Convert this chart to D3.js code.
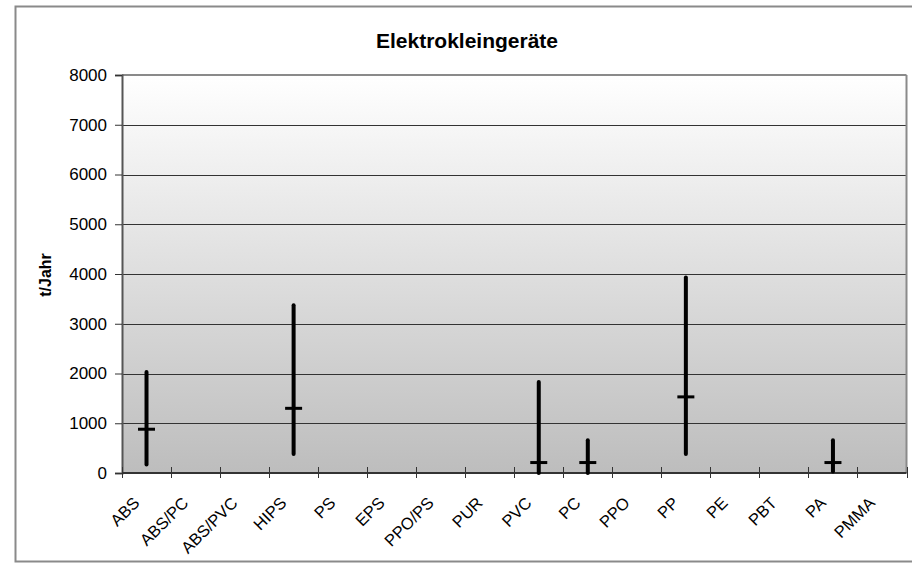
<!DOCTYPE html>
<html><head><meta charset="utf-8">
<script src="https://cdn.jsdelivr.net/npm/d3@7"></script>
<style>body{margin:0;background:#fff;}svg{display:block;font-family:Arial,"Liberation Sans",sans-serif;}</style>
</head><body>
<svg id="c" width="912" height="565"></svg>
<script>
const categories = ["ABS","ABS/PC","ABS/PVC","HIPS","PS","EPS","PPO/PS","PUR","PVC","PC","PPO","PP","PE","PBT","PA","PMMA"];
const highValues = [2030,null,null,3370,null,null,null,null,1830,660,null,3930,null,null,660,null];
const lowValues  = [170,null,null,380,null,null,null,null,0,0,null,380,null,null,30,null];
const closeValues= [880,null,null,1300,null,null,null,null,210,210,null,1530,null,null,210,null];
const yTicks = [0,1000,2000,3000,4000,5000,6000,7000,8000];

const svg = d3.select("#c");
const L=122, R=906.5, T=75, B=473;
const x = d3.scaleBand().domain(categories).range([L,R]).padding(0);
const y = d3.scaleLinear().domain([0,8000]).range([B,T]);
const FONT = "Arial,'Liberation Sans',sans-serif";

// outer frame
svg.append("rect").attr("x",15.5).attr("y",6.5).attr("width",920).attr("height",555).attr("fill","#fff").attr("stroke","#8a8a8a").attr("stroke-width",2);

// gradient
const defs = svg.append("defs");
const g = defs.append("linearGradient").attr("id","bg").attr("x1",0).attr("y1",0).attr("x2",0).attr("y2",1);
g.append("stop").attr("offset","0%").attr("stop-color","#ffffff");
g.append("stop").attr("offset","100%").attr("stop-color","#bdbdbd");
svg.append("rect").attr("x",L).attr("y",T).attr("width",R-L).attr("height",B-T).attr("fill","url(#bg)");

// gridlines
svg.append("g").selectAll("line").data(yTicks.filter(d=>d>0)).join("line")
  .attr("x1",L).attr("x2",R).attr("y1",d=>Math.round(y(d))+0.5).attr("y2",d=>Math.round(y(d))+0.5)
  .attr("stroke",d=>d===8000?"#9a9a9a":"#333").attr("stroke-width",1);
// plot border right/top
svg.append("line").attr("x1",R).attr("x2",R).attr("y1",T).attr("y2",B).attr("stroke","#8a8a8a").attr("stroke-width",2);
svg.append("line").attr("x1",L).attr("x2",R).attr("y1",T).attr("y2",T).attr("stroke","#8a8a8a").attr("stroke-width",2);

// y axis
const ya = svg.append("g").attr("transform",`translate(${L},0)`)
  .call(d3.axisLeft(y).tickValues(yTicks).tickSize(7).tickPadding(8).tickFormat(d3.format("d")));
ya.select(".domain").attr("stroke","#555").attr("stroke-width",2);
ya.selectAll(".tick line").attr("stroke","#333");
ya.selectAll("text").attr("font-size",17).attr("fill","#000").attr("font-family",FONT);

// x axis
const xa = svg.append("g").attr("transform",`translate(0,${B})`);
xa.append("line").attr("x1",L).attr("x2",R).attr("stroke","#333").attr("stroke-width",2);
const edges = categories.map(c=>x(c)).concat([R]);
xa.selectAll("line.t").data(edges).join("line").attr("class","t")
  .attr("x1",d=>Math.round(d)+0.5).attr("x2",d=>Math.round(d)+0.5).attr("y1",-6).attr("y2",5).attr("stroke","#333");
xa.selectAll("text").data(categories).join("text")
  .attr("transform",d=>`translate(${x(d)+x.bandwidth()/2-6},${31}) rotate(-45)`)
  .attr("text-anchor","end").attr("font-size",16.5).text(d=>d);

// high-low lines
const data = categories.map((c,i)=>({c,h:highValues[i],l:lowValues[i],cl:closeValues[i]})).filter(d=>d.h!=null);
svg.append("g").selectAll("line").data(data).join("line")
  .attr("x1",d=>x(d.c)+x.bandwidth()/2).attr("x2",d=>x(d.c)+x.bandwidth()/2)
  .attr("y1",d=>y(d.h)).attr("y2",d=>y(d.l)).attr("stroke","#000").attr("stroke-width",4).attr("stroke-linecap","round");
svg.append("g").selectAll("line").data(data).join("line")
  .attr("x1",d=>x(d.c)+x.bandwidth()/2-8.5).attr("x2",d=>x(d.c)+x.bandwidth()/2+8.5)
  .attr("y1",d=>y(d.cl)).attr("y2",d=>y(d.cl)).attr("stroke","#000").attr("stroke-width",3);

// title
svg.append("text").attr("x",467).attr("y",48).attr("text-anchor","middle").attr("font-weight","bold").attr("font-size",21).text("Elektrokleingeräte");
// y label
svg.append("text").attr("transform",`translate(51,275) rotate(-90)`).attr("text-anchor","middle").attr("font-weight","bold").attr("font-size",16).text("t/Jahr");
</script></body></html>
